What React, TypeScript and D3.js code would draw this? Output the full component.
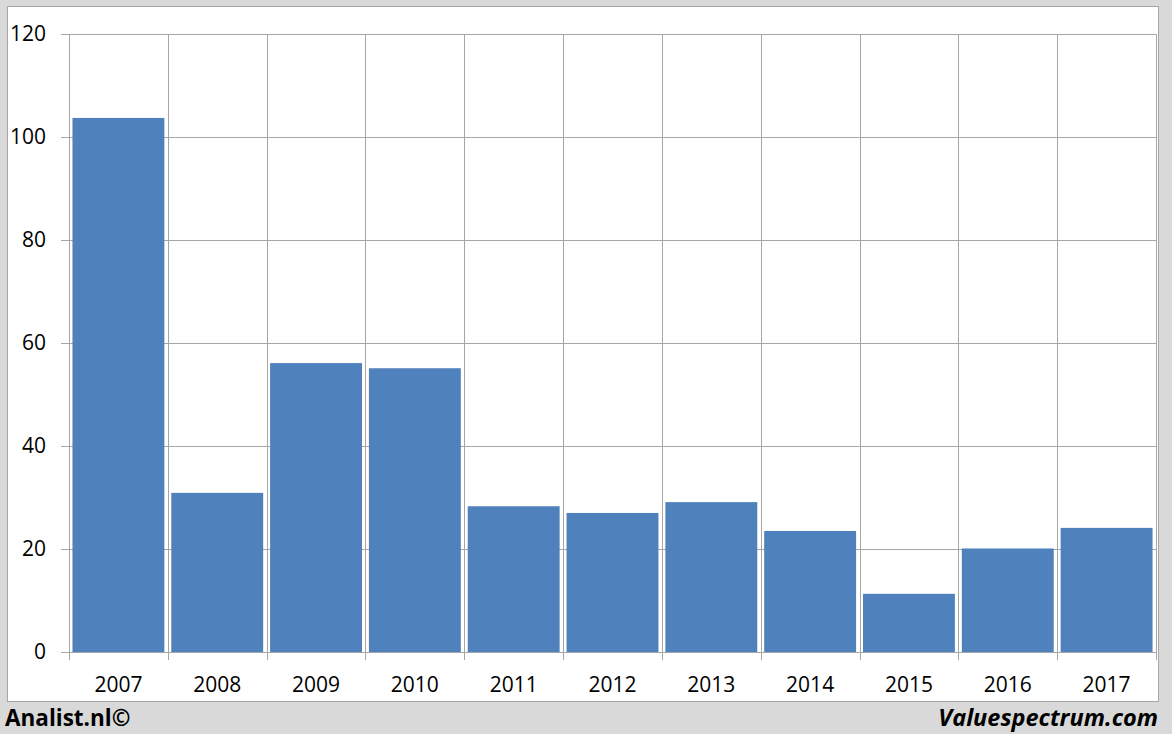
import React from "react";
import * as d3 from "d3";

const categories = ["2007", "2008", "2009", "2010", "2011", "2012", "2013", "2014", "2015", "2016", "2017"];
const values = [103.7, 30.9, 56.1, 55.1, 28.3, 27.0, 29.1, 23.5, 11.3, 20.1, 24.1];
const yTicks = [0, 20, 40, 60, 80, 100, 120];

const W = 1172;
const H = 734;
const plot = { left: 69, right: 1156, top: 34, bottom: 652 };

export default function App() {
  const x = d3.scaleBand<string>().domain(categories).range([plot.left, plot.right]).paddingInner(0.07).paddingOuter(0.035);
  const xb = d3.scaleBand<string>().domain(categories).range([plot.left, plot.right]).padding(0);
  const y = d3.scaleLinear().domain([0, 120]).range([plot.bottom, plot.top]);
  const grid = "#a6a6a6";
  const font = "'Open Sans', 'Liberation Sans', sans-serif";
  const boundaries = [...categories.map((c) => xb(c) as number), plot.right];

  return (
    <svg width={W} height={H} style={{ position: "absolute", left: 0, top: 0 }} xmlns="http://www.w3.org/2000/svg">
      <rect x={0} y={0} width={W} height={H} fill="#d9d9d9" />
      <rect x={7.5} y={6.5} width={1151} height={695} fill="#ffffff" stroke="#a6a6a6" strokeWidth={1} />
      {yTicks.map((t) => (
        <g key={t}>
          <line x1={61} x2={plot.right} y1={Math.round(y(t)) + 0.5} y2={Math.round(y(t)) + 0.5} stroke={grid} strokeWidth={1} />
          <text x={46} y={y(t)} dy="0.35em" textAnchor="end" fontFamily={font} fontSize={21} fill="#000">
            {t}
          </text>
        </g>
      ))}
      {boundaries.map((bx, i) => (
        <line key={i} x1={Math.round(bx) + 0.5} x2={Math.round(bx) + 0.5} y1={plot.top} y2={660} stroke={grid} strokeWidth={1} />
      ))}
      {categories.map((c, i) => (
        <rect key={c} x={x(c)} y={y(values[i])} width={x.bandwidth()} height={plot.bottom - y(values[i])} fill="#4f81bd" />
      ))}
      <line x1={plot.left} x2={plot.right} y1={plot.bottom + 0.5} y2={plot.bottom + 0.5} stroke={grid} strokeWidth={1} />
      {categories.map((c) => (
        <text key={c} x={(xb(c) as number) + xb.bandwidth() / 2} y={692} textAnchor="middle" fontFamily={font} fontSize={21} fill="#000">
          {c}
        </text>
      ))}
      <text x={5} y={726} fontFamily={font} fontSize={22.5} fontWeight="bold" fill="#000">
        Analist.nl©
      </text>
      <text x={1158} y={726} textAnchor="end" fontFamily={font} fontSize={23.5} fontWeight="bold" fontStyle="italic" fill="#000">
        Valuespectrum.com
      </text>
    </svg>
  );
}
